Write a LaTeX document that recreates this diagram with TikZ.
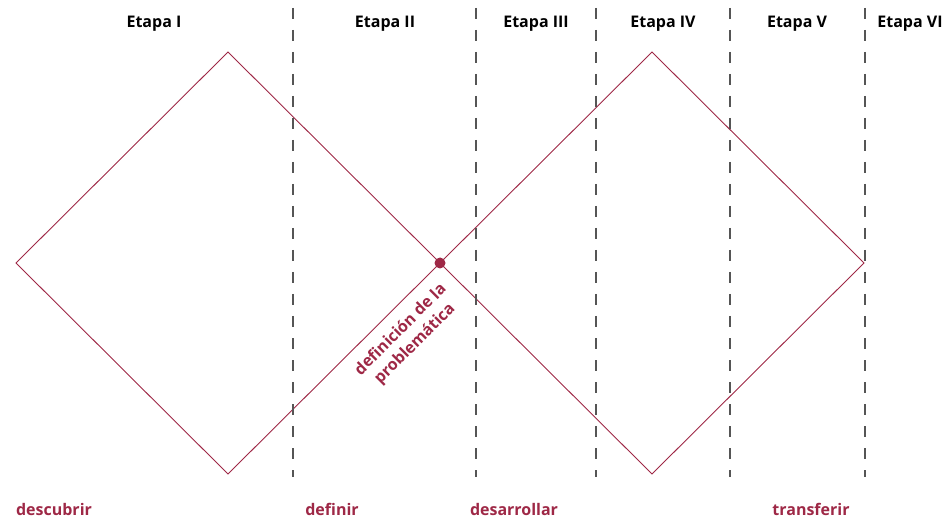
\documentclass[tikz,border=0pt]{standalone}
\usepackage{fontspec}
\setmainfont{Open Sans}
\definecolor{wine}{RGB}{158,40,70}
\definecolor{dgray}{RGB}{85,85,85}
\begin{document}
\begin{tikzpicture}[x=1pt,y=-1pt,
  stage/.style={font=\bfseries\fontsize{16}{19}\selectfont, text=black, inner sep=0pt},
  phase/.style={font=\bfseries\fontsize{16}{19}\selectfont, text=wine, inner sep=0pt, anchor=base},
  divider/.style={draw=dgray, line width=1.2pt, dash pattern=on 11pt off 11pt},
  dline/.style={draw=wine, line width=0.9pt}]
\useasboundingbox (0,0) rectangle (947,518);
% diamond vertices
\coordinate (L1) at (16,263);
\coordinate (T1) at (228,52);
\coordinate (B1) at (228,474);
\coordinate (C) at (440,263);
\coordinate (T2) at (652,52);
\coordinate (B2) at (652,474);
\coordinate (R2) at (864,263);
\draw[dline] (L1) -- (T1) -- (C) -- (B1) -- cycle;
\draw[dline] (C) -- (T2) -- (R2) -- (B2) -- cycle;
% dividers
\foreach \x/\n in {293/a,476/b,596/c,730/d,865/e}{
  \coordinate (d\n t) at (\x,8);
  \coordinate (d\n b) at (\x,477);
  \draw[divider] (d\n t) -- (d\n b);
}
\node[circle, fill=wine, inner sep=0pt, minimum size=11pt] (dot) at (C) {};
% stage labels
\node[stage] (s1) at (154,24) {Etapa I};
\node[stage] (s2) at (385,24) {Etapa II};
\node[stage] (s3) at (536,24) {Etapa III};
\node[stage] (s4) at (663,24) {Etapa IV};
\node[stage] (s5) at (797,24) {Etapa V};
\node[stage] (s6) at (910,24) {Etapa VI};
% phase labels
\node[phase] (p1) at (54,515) {descubrir};
\node[phase] (p2) at (332,515) {definir};
\node[phase] (p3) at (514,515) {desarrollar};
\node[phase] (p4) at (811,515) {transferir};
\node[phase, anchor=center, rotate=45, align=center, font=\bfseries\fontsize{16}{20}\selectfont] (def) at (408,337) {definición de la\\problemática};
\end{tikzpicture}
\end{document}
